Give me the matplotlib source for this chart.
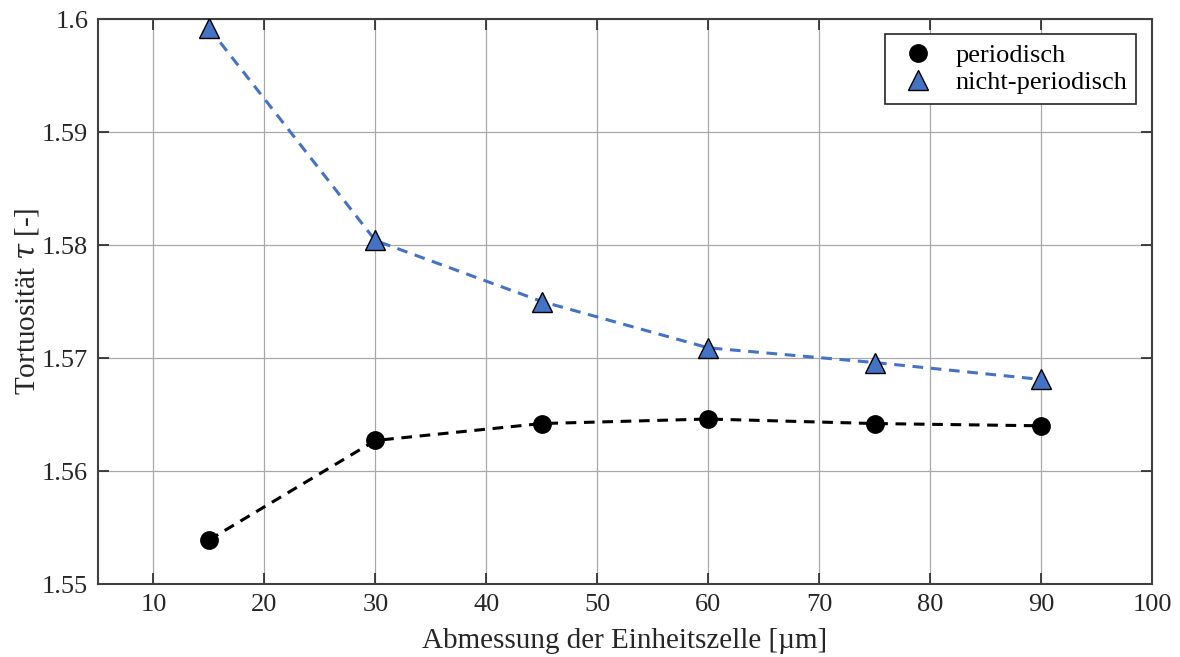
import numpy as np
import matplotlib.pyplot as plt
from matplotlib.ticker import FixedLocator, FuncFormatter

plt.rcParams['font.family'] = ['Liberation Serif', 'DejaVu Serif']
plt.rcParams['mathtext.fontset'] = 'dejavuserif'

# Zellgrößen und Tortuosität
cell_size = [15, 30, 45, 60, 75, 90]
tau_periodic = [1.5539, 1.5627, 1.5642, 1.5646, 1.5642, 1.5640]
tau_nonperiodic = [1.5992, 1.5804, 1.5750, 1.5709, 1.5696, 1.5681]

x_ticks = [10, 20, 30, 40, 50, 60, 70, 80, 90, 100]
y_ticks = [1.55, 1.56, 1.57, 1.58, 1.59, 1.60]

blue = '#4472C4'

fig = plt.figure(figsize=(11.8, 6.57), dpi=100)
ax = fig.add_axes([98 / 1180, 1 - 584 / 657, (1152 - 98) / 1180, (584 - 19) / 657])

ax.plot(cell_size, tau_periodic, '--', color='black', lw=2.2, dashes=(3.5, 2.5), zorder=3)
ax.plot(cell_size, tau_nonperiodic, '--', color=blue, lw=2.2, dashes=(3.5, 2.5), zorder=3)
ax.plot(cell_size, tau_periodic, 'o', ms=12.5, mfc='black', mec='black',
        ls='none', label='periodisch', zorder=4)
ax.plot(cell_size, tau_nonperiodic, '^', ms=14, mfc=blue, mec='black', mew=1.0,
        ls='none', label='nicht-periodisch', zorder=4)

ax.set_xlim(5, 100)
ax.set_ylim(1.55, 1.60)
ax.xaxis.set_major_locator(FixedLocator(x_ticks))
ax.yaxis.set_major_locator(FixedLocator(y_ticks))
ax.yaxis.set_major_formatter(FuncFormatter(lambda v, p: f'{v:g}'))

ax.grid(True, color='#a8a8a8', lw=0.9)
ax.set_axisbelow(True)
ax.tick_params(direction='in', length=8, width=1.2, labelsize=19, colors='#262626',
               top=True, right=True, pad=7)
for s in ax.spines.values():
    s.set_color('#404040')
    s.set_linewidth(1.5)

ax.set_xlabel('Abmessung der Einheitszelle [µm]', fontsize=21, color='#262626', labelpad=9)
ax.set_ylabel(r'Tortuosität $\tau$ [-]', fontsize=21, color='#262626', labelpad=1)

leg = ax.legend(loc='upper right', bbox_to_anchor=(0.985, 0.973), borderaxespad=0,
                fontsize=19, frameon=True, fancybox=False, edgecolor='#262626',
                framealpha=1, handletextpad=0.5, borderpad=0.35, labelspacing=0.15,
                handlelength=1.8)
leg.get_frame().set_linewidth(1.2)

fig.savefig('out.png', dpi=100)
